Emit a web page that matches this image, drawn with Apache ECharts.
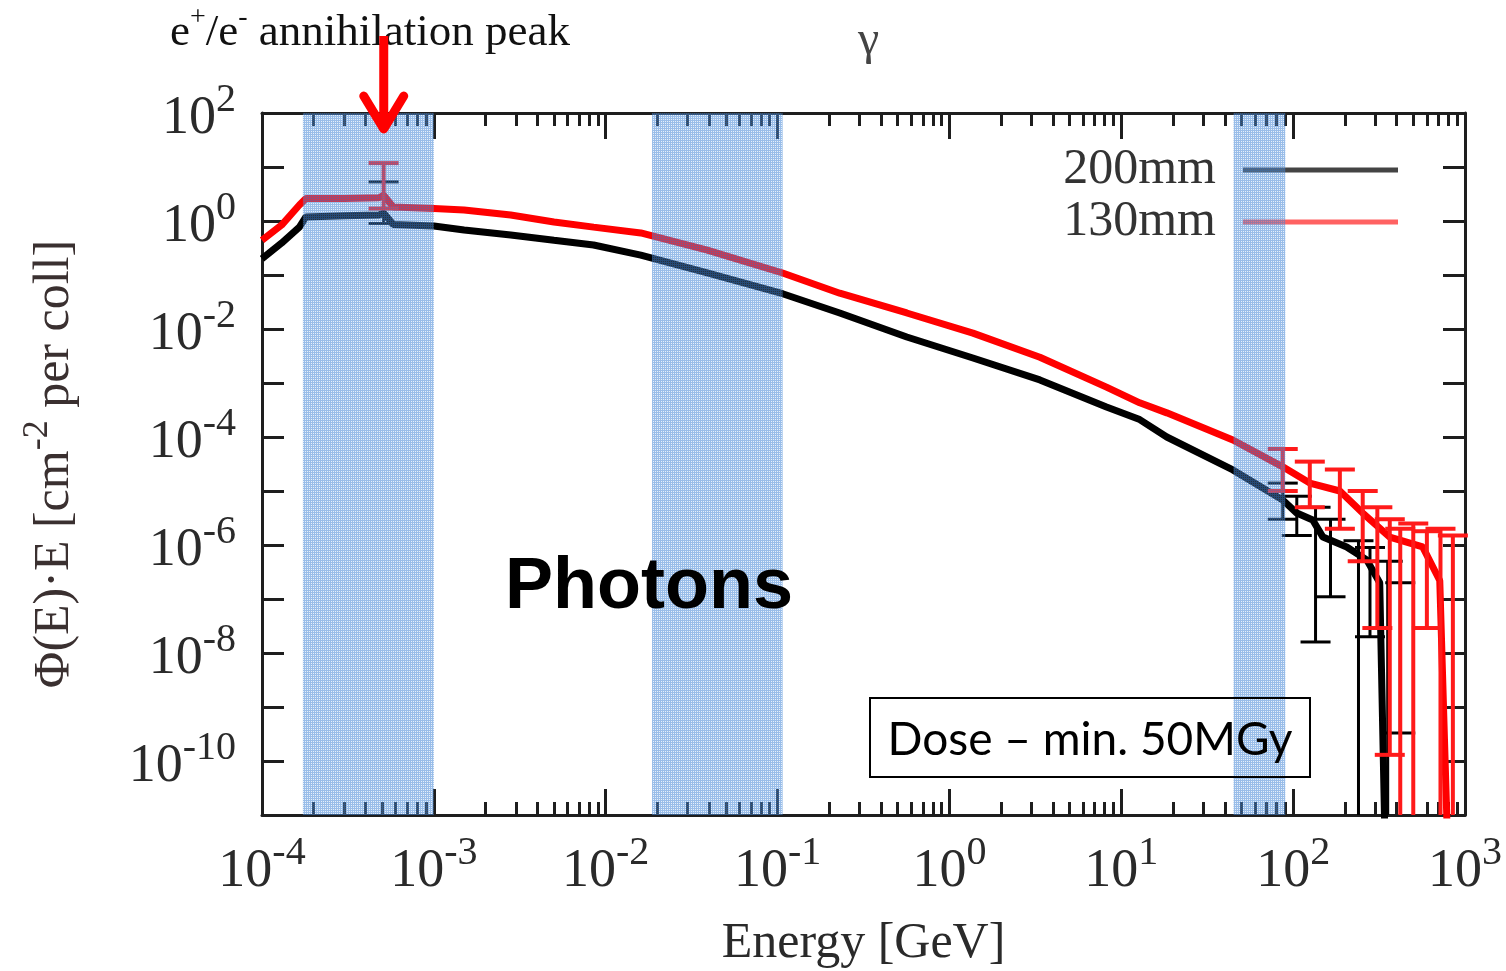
<!DOCTYPE html>
<html>
<head>
    <meta charset="utf-8" />
    <title>Photons</title>
    <script src="https://cdn.jsdelivr.net/npm/echarts@6/dist/echarts.min.js"></script>
</head>
<body style="margin:0;background:#fff">
    <div id="main" style="width:1506px;height:971px;"></div>
    <script>
        // 200mm (black) spectrum
        var energy200 = [1.0e-4, 1.3e-4, 1.65e-4, 1.8e-4, 3.0e-4, 4.8e-4, 5.1e-4, 5.8e-4, 1.0e-3, 1.5e-3,
            2.8e-3, 5.0e-3, 8.5e-3, 1.6e-2, 3.9e-2, 0.107, 0.23, 0.565, 1.37, 3.36,
            8.2, 12.8, 18.4, 44.6, 87, 105, 130, 149, 205, 268, 319, 345];
        var flux200 = [0.2, 0.39, 0.77, 1.19, 1.25, 1.29, 1.4, 0.86, 0.81, 0.68,
            0.55, 0.44, 0.36, 0.234, 0.109, 0.045, 0.0198, 7.1e-3, 2.9e-3, 1.14e-3,
            3.6e-4, 2.1e-4, 1.0e-4, 2.45e-5, 6.8e-6, 3.9e-6, 2.9e-6, 1.4e-6, 9.2e-7, 5.3e-7, 2.0e-7, 1e-12];

        // 130mm (red) spectrum
        var energy130 = [1.0e-4, 1.3e-4, 1.65e-4, 1.8e-4, 3.0e-4, 4.8e-4, 5.1e-4, 5.8e-4, 1.0e-3, 1.5e-3,
            2.8e-3, 5.0e-3, 8.5e-3, 1.6e-2, 3.9e-2, 0.107, 0.23, 0.565, 1.37, 3.36,
            8.2, 12.8, 18.4, 44.6, 87, 125, 187, 254, 365, 567, 713, 800];
        var flux130 = [0.44, 0.84, 1.98, 2.6, 2.6, 2.7, 3.0, 1.82, 1.7, 1.6,
            1.29, 0.96, 0.77, 0.60, 0.29, 0.109, 0.046, 0.0198, 8.4e-3, 3.0e-3,
            8.4e-4, 4.3e-4, 2.8e-4, 8.8e-5, 2.8e-5, 1.4e-5, 1.0e-5, 3.9e-6, 1.4e-6, 9.2e-7, 2.2e-7, 1e-12];

        // error bars: energy, low, high
        var errE200 = [5.1e-4, 87, 105, 135, 165, 240, 280, 355, 420];
        var errLo200 = [0.9, 3e-6, 1.5e-6, 1.6e-8, 1.1e-7, 1e-12, 2e-8, 1e-12, 3.3e-10];
        var errHi200 = [5.3, 1.4e-5, 8e-6, 5e-6, 3e-6, 1.2e-6, 9e-7, 5e-7, 2e-7];

        var errE130 = [5.1e-4, 87, 125, 187, 254, 309, 365, 420, 500, 600, 720, 850];
        var errLo130 = [1.7, 1e-5, 5e-6, 2e-6, 5e-7, 2.9e-8, 1.3e-10, 1e-12, 1e-12, 2.9e-8, 1e-12, 1e-12];
        var errHi130 = [11.8, 6e-5, 3.5e-5, 2.5e-5, 1e-5, 5e-6, 3e-6, 2e-6, 2.5e-6, 1.8e-6, 2e-6, 1.5e-6];

        // shaded energy windows
        var bandFrom = [1.73e-4, 0.0186, 45];
        var bandTo = [1.0e-3, 0.107, 90];

        var peakEnergy = 5.11e-4;

        var serif = '"Liberation Serif", "DejaVu Serif", serif';
        var ink = '#2a2a2a';
        var axisColor = '#1e1e1e';

        var chart = echarts.init(document.getElementById('main'));

        function pairs(xs, ys) {
            return xs.map(function (x, i) { return [x, ys[i]]; });
        }
        function bars(xs, lo, hi) {
            return xs.map(function (x, i) { return [x, lo[i], hi[i]]; });
        }

        // dotted fill for the shaded windows
        var dots = document.createElement('canvas');
        dots.width = 2;
        dots.height = 2;
        var dctx = dots.getContext('2d');
        dctx.fillStyle = 'rgba(70,135,215,0.55)';
        dctx.fillRect(0, 0, 2, 2);
        dctx.clearRect(1, 1, 1, 1);
        dctx.fillStyle = 'rgba(150,190,235,0.25)';
        dctx.fillRect(1, 1, 1, 1);

        var powRich = {
            b: { fontFamily: serif, fontSize: 54, color: ink, lineHeight: 66, verticalAlign: 'bottom' },
            s: { fontFamily: serif, fontSize: 40, color: ink, lineHeight: 40, verticalAlign: 'top' }
        };
        function powLabel(v, evenOnly) {
            var e = Math.round(Math.log10(v));
            if (evenOnly && e % 2 !== 0) return '';
            return '{b|10}{s|' + e + '}';
        }

        function errorBars(color, width) {
            return function (params, api) {
                var cs = params.coordSys;
                var bottom = cs.y + cs.height;
                var x = api.value(0);
                var hi = api.coord([x, api.value(2)]);
                var lo = api.coord([x, api.value(1)]);
                var half = 15;
                var st = { stroke: color, lineWidth: width };
                var kids = [
                    { type: 'line', shape: { x1: hi[0], y1: hi[1], x2: hi[0], y2: Math.min(lo[1], bottom) }, style: st },
                    { type: 'line', shape: { x1: hi[0] - half, y1: hi[1], x2: hi[0] + half, y2: hi[1] }, style: st }
                ];
                if (lo[1] < bottom) {
                    kids.push({ type: 'line', shape: { x1: lo[0] - half, y1: lo[1], x2: lo[0] + half, y2: lo[1] }, style: st });
                }
                return { type: 'group', children: kids };
            };
        }

        function bandItem(params, api) {
            var cs = params.coordSys;
            var a = api.coord([api.value(0), 1]);
            var b = api.coord([api.value(1), 1]);
            return {
                type: 'rect',
                shape: { x: a[0], y: cs.y, width: b[0] - a[0], height: cs.height },
                style: { fill: { image: dots, repeat: 'repeat' } }
            };
        }

        var tickLine = { color: axisColor, width: 3 };
        function logAxis(extra) {
            var base = {
                type: 'log', logBase: 10,
                axisLine: { show: true, onZero: false, lineStyle: { color: axisColor, width: 3 } },
                axisTick: { show: true, inside: true, length: 26, lineStyle: tickLine },
                minorTick: { show: true, inside: true, length: 13, lineStyle: tickLine },
                splitLine: { show: false },
                minorSplitLine: { show: false }
            };
            return Object.assign(base, extra);
        }

        chart.setOption({
            backgroundColor: '#fff',
            animation: false,
            title: {
                text: 'γ', left: 853, top: 12,
                textStyle: { fontFamily: serif, fontSize: 48, fontWeight: 'normal', color: '#444' }
            },
            legend: {
                data: [
                    { name: '200mm', itemStyle: { color: '#444' } },
                    { name: '130mm', itemStyle: { color: '#ff6262' } }
                ],
                orient: 'vertical', align: 'right',
                right: 103, top: 140, z: 5,
                icon: 'rect', itemWidth: 155, itemHeight: 5, itemGap: 2,
                textStyle: { fontFamily: serif, fontSize: 50, color: '#333', lineHeight: 48, padding: [0, 22, 0, 0] }
            },
            grid: { left: 262, right: 41, top: 113, bottom: 156, outerBoundsMode: 'none', containLabel: false },
            xAxis: [
                logAxis({
                    position: 'bottom', min: 1e-4, max: 1e3,
                    name: 'Energy [GeV]', nameLocation: 'middle', nameGap: 104,
                    nameTextStyle: { fontFamily: serif, fontSize: 50, color: ink },
                    minorTick: { show: true, splitNumber: 9, length: 13, lineStyle: tickLine },
                    axisLabel: { margin: 18, formatter: function (v) { return powLabel(v, false); }, rich: powRich }
                }),
                logAxis({
                    position: 'top', min: 1e-4, max: 1e3,
                    minorTick: { show: true, splitNumber: 9, length: 13, lineStyle: tickLine },
                    axisLabel: { show: false }
                })
            ],
            yAxis: [
                logAxis({
                    position: 'left', min: 1e-11, max: 1e2, interval: 1,
                    name: '{n|Φ(E)·E [cm}{s|-2}{n| per coll]}', nameLocation: 'middle', nameGap: 182, nameRotate: 90,
                    nameTextStyle: {
                        rich: {
                            n: { fontFamily: serif, fontSize: 50, color: '#3a3030', lineHeight: 60, verticalAlign: 'bottom' },
                            s: { fontFamily: serif, fontSize: 36, color: '#3a3030', lineHeight: 36, verticalAlign: 'top' }
                        }
                    },
                    minorTick: { show: false },
                    axisTick: { show: true, inside: true, length: 22, lineStyle: tickLine },
                    axisLabel: { margin: 26, formatter: function (v) { return powLabel(v, true); }, rich: powRich }
                }),
                logAxis({
                    position: 'right', min: 1e-11, max: 1e2, interval: 1,
                    minorTick: { show: false },
                    axisTick: { show: true, inside: true, length: 22, lineStyle: tickLine },
                    axisLabel: { show: false }
                })
            ],
            series: [
                {
                    name: '200mm', type: 'line', data: pairs(energy200, flux200),
                    showSymbol: false, lineStyle: { color: '#000', width: 7 }, itemStyle: { color: '#000' }, z: 2
                },
                {
                    name: '130mm', type: 'line', data: pairs(energy130, flux130),
                    showSymbol: false, lineStyle: { color: '#ff0000', width: 7 }, itemStyle: { color: '#ff0000' }, z: 3
                },
                {
                    name: 'err200', type: 'custom', renderItem: errorBars('#000', 3),
                    data: bars(errE200, errLo200, errHi200), encode: { x: 0, y: [1, 2] }, z: 4
                },
                {
                    name: 'err130', type: 'custom', renderItem: errorBars('#ff1a1a', 4),
                    data: bars(errE130, errLo130, errHi130), encode: { x: 0, y: [1, 2] }, z: 5
                },
                {
                    name: 'bands', type: 'custom', renderItem: bandItem, silent: true,
                    data: bandFrom.map(function (f, i) { return [f, bandTo[i], 1]; }),
                    encode: { x: [0, 1], y: 2 }, z: 20
                }
            ]
        });

        // annotations
        var px = chart.convertToPixel({ xAxisIndex: 0 }, peakEnergy);
        chart.setOption({
            graphic: [
                {
                    type: 'text', left: 170, top: 4, z: 30,
                    style: {
                        text: '{a|e}{s|+}{a|/e}{s|-}{a| annihilation peak}',
                        rich: {
                            a: { fontFamily: serif, fontSize: 45, fill: '#111', lineHeight: 52, verticalAlign: 'bottom' },
                            s: { fontFamily: serif, fontSize: 28, fill: '#111', lineHeight: 28, verticalAlign: 'top' }
                        }
                    }
                },
                {
                    type: 'polyline', z: 31,
                    shape: { points: [[px, 36], [px, 128]] },
                    style: { stroke: '#ff0000', lineWidth: 9, fill: null }
                },
                {
                    type: 'polyline', z: 31,
                    shape: { points: [[px - 20, 96], [px, 129], [px + 20, 96]] },
                    style: { stroke: '#ff0000', lineWidth: 9, fill: null, lineCap: 'round', lineJoin: 'round' }
                },
                {
                    type: 'text', left: 505, top: 552, z: 30,
                    style: { text: 'Photons', fontFamily: '"Liberation Sans", Arial, sans-serif', fontSize: 72, fontWeight: 'bold', fill: '#000' }
                },
                {
                    type: 'rect', z: 30,
                    shape: { x: 870, y: 698, width: 440, height: 79 },
                    style: { fill: null, stroke: '#000', lineWidth: 2 }
                },
                {
                    type: 'text', z: 31, x: 1090, y: 740,
                    style: { text: 'Dose – min. 50MGy', fontFamily: 'Lato, "Open Sans", sans-serif', fontSize: 46, fill: '#000', align: 'center', verticalAlign: 'middle' }
                }
            ]
        });
    </script>
</body>
</html>
